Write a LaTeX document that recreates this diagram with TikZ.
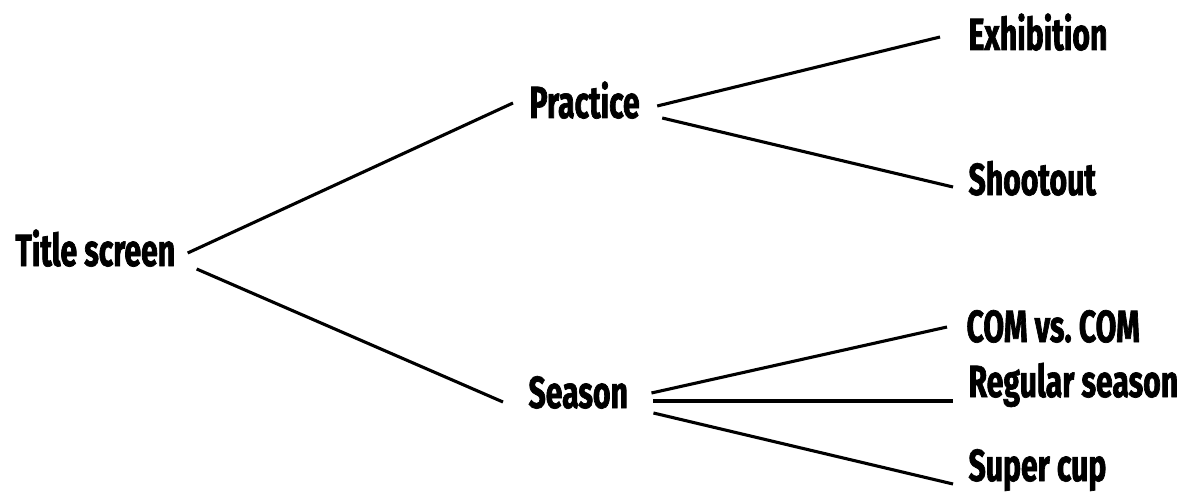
\documentclass[tikz,border=0pt]{standalone}
\usepackage{fontspec}
\newfontfamily\menufont{Fira Sans}[FakeStretch=0.67, FakeBold=1.5]
\usepackage{tikz}
\usetikzlibrary{positioning,calc}

\begin{document}
\begin{tikzpicture}[x=0.025cm, y=-0.025cm, line width=2.2pt,
     every node/.style={inner sep=0pt, anchor=base west, font=\menufont\bfseries\fontsize{32}{34}\selectfont}]
    \useasboundingbox (0,0) rectangle (1187,492);
    % menu entries
    \node (title) at (14,266) {Title screen};
    \node (prac) at (528,118) {Practice};
    \node (seas) at (527,408) {Season};
    \node (exhib) at (967,50) {Exhibition};
    \node (shoot) at (967,195) {Shootout};
    \node (comvs) at (965,342) {COM vs.\ COM};
    \node (regul) at (967,397) {Regular season};
    \node (super) at (967,481) {Super cup};
    % branches
    \draw ($(title.base east)+(11,-13)$) -- ($(prac.base west)+(-15,-15)$);
    \draw ($(title.base east)+(20,3)$) -- ($(seas.base west)+(-24,-6)$);
    \draw ($(prac.base east)+(16,-12)$) -- ($(exhib.base west)+(-27,-13)$);
    \draw ($(prac.base east)+(21,0)$) -- ($(shoot.base west)+(-14,-8)$);
    \draw ($(seas.base east)+(22,-15)$) -- ($(comvs.base west)+(-18,-15)$);
    \draw ($(seas.base east)+(24,-7)$) -- ($(regul.base west)+(-14,4)$);
    \draw ($(seas.base east)+(24,5)$) -- ($(super.base west)+(-14,3)$);
\end{tikzpicture}
\end{document}
